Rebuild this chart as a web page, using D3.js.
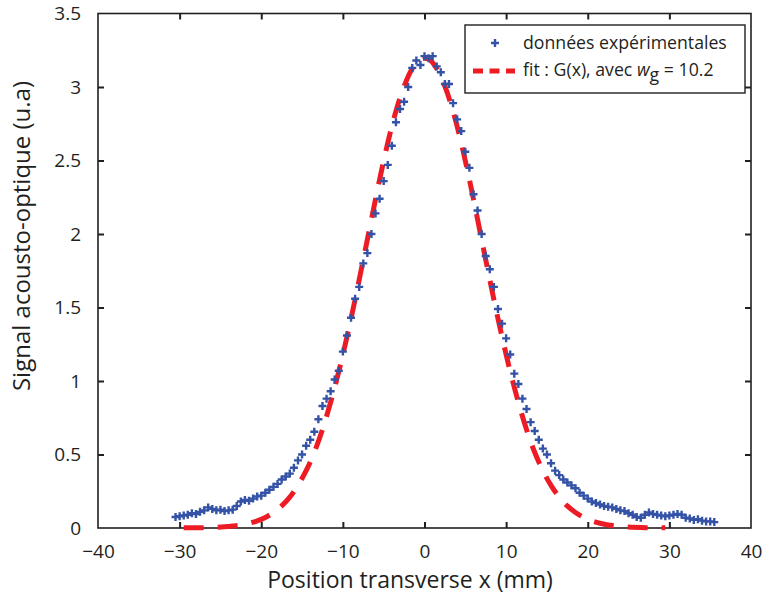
<!DOCTYPE html>
<html><head><meta charset="utf-8">
<script src="https://cdn.jsdelivr.net/npm/d3@7"></script>
<style>
html,body{margin:0;padding:0;background:#fff;}
svg{display:block;}
text{font-family:"Open Sans","Noto Sans",sans-serif;fill:#231f20;}
</style></head>
<body><svg id="chart" width="765" height="597"></svg>
<script>
// ---- data ----
const dataX = d3.range(-30.5, 35.75, 0.5);
const dataY = [
 0.075,0.08,0.085,0.09,0.10,0.095,0.11,0.12,0.14,0.13,0.12,0.125,0.115,0.12,0.125,0.15,0.18,0.19,0.185,0.20,
 0.215,0.22,0.24,0.26,0.28,0.30,0.33,0.35,0.37,0.41,0.46,0.50,0.56,0.60,0.655,0.74,0.83,0.88,0.93,1.01,
 1.07,1.20,1.31,1.43,1.56,1.64,1.80,1.87,2.00,2.14,2.24,2.36,2.47,2.60,2.76,2.85,2.90,3.00,3.13,3.18,
 3.15,3.21,3.195,3.21,3.14,3.10,3.02,3.02,2.89,2.78,2.70,2.56,2.45,2.27,2.16,2.00,1.85,1.76,1.64,1.49,
 1.39,1.29,1.18,1.05,0.98,0.88,0.81,0.72,0.66,0.60,0.54,0.50,0.44,0.39,0.36,0.33,0.31,0.29,0.27,0.24,
 0.22,0.20,0.18,0.17,0.16,0.15,0.145,0.14,0.13,0.12,0.115,0.10,0.09,0.075,0.07,0.09,0.105,0.095,0.09,0.085,
 0.08,0.085,0.09,0.095,0.09,0.07,0.065,0.055,0.06,0.05,0.045,0.045,0.04
];
const fitX = d3.range(-29.5, 30, 1);
const fitY = [
 0.001,0.001,0.002,0.003,0.005,0.008,0.013,0.020,0.032,0.048,0.072,0.105,0.150,0.210,0.290,0.390,0.515,0.670,0.855,1.065,
 1.300,1.555,1.825,2.100,2.370,2.620,2.835,3.005,3.125,3.190,3.190,3.125,3.005,2.835,2.620,2.370,2.100,1.825,1.555,1.300,
 1.065,0.855,0.670,0.515,0.390,0.290,0.210,0.150,0.105,0.072,0.048,0.032,0.020,0.013,0.008,0.005,0.003,0.002,0.001,0.001
];
const xTicks = [-40,-30,-20,-10,0,10,20,30,40];
const yTicks = [0,0.5,1,1.5,2,2.5,3,3.5];
const xTitle = "Position transverse x (mm)";
const yTitle = "Signal acousto-optique (u.a)";
const legendData = "données expérimentales";

// ---- layout ----
const svg = d3.select("#chart");
const L = 98, R = 751, T = 13.5, B = 528;
const x = d3.scaleLinear().domain([-40,40]).range([L,R]);
const y = d3.scaleLinear().domain([0,3.5]).range([B,T]);
const ink = "#231f20", blue = "#3553a6", red = "#ed1c24";
const fmt = d => (d < 0 ? "\u2212" + Math.abs(d) : String(d));

// frame
svg.append("rect").attr("x",L).attr("y",T).attr("width",R-L).attr("height",B-T)
  .attr("fill","none").attr("stroke",ink).attr("stroke-width",1.6);

// axes (ticks inward)
const tl = 6;
const gx = svg.append("g").attr("transform",`translate(0,${B})`)
  .call(d3.axisBottom(x).tickValues(xTicks).tickSize(-tl).tickPadding(16.5).tickFormat(fmt));
const gxt = svg.append("g").attr("transform",`translate(0,${T})`)
  .call(d3.axisTop(x).tickValues(xTicks).tickSize(-tl).tickFormat(""));
const gy = svg.append("g").attr("transform",`translate(${L},0)`)
  .call(d3.axisLeft(y).tickValues(yTicks).tickSize(-tl).tickPadding(17).tickFormat(d=>String(d)));
const gyr = svg.append("g").attr("transform",`translate(${R},0)`)
  .call(d3.axisRight(y).tickValues(yTicks).tickSize(-tl).tickFormat(""));
[gx,gxt,gy,gyr].forEach(g=>{
  g.select(".domain").remove();
  g.selectAll(".tick line").attr("stroke",ink).attr("stroke-width",2);
  g.selectAll(".tick text").attr("fill",ink).style("font-size","19px")
    .style("font-family","'Open Sans','Noto Sans',sans-serif");
});
gx.selectAll(".tick").filter(d=>d===-40||d===40).select("line").remove();
gxt.selectAll(".tick").filter(d=>d===-40||d===40).select("line").remove();
gy.selectAll(".tick").filter(d=>d===0||d===3.5).select("line").remove();
gyr.selectAll(".tick").filter(d=>d===0||d===3.5).select("line").remove();

// titles
svg.append("text").attr("x",410).attr("y",588).attr("text-anchor","middle")
  .style("font-size","23px").text(xTitle);
svg.append("text").attr("transform",`translate(30,236) rotate(-90)`).attr("text-anchor","middle")
  .style("font-size","24px").text(yTitle);

// fit curve
const line = d3.line().x((d,i)=>x(fitX[i])).y(d=>y(d)).curve(d3.curveCatmullRom);
svg.append("path").datum(fitY).attr("d",line).attr("fill","none")
  .attr("stroke",red).attr("stroke-width",5).attr("stroke-dasharray","20,14");

// data markers "+"
const s = 4;
const plus = `M${-s},0H${s}M0,${-s}V${s}`;
svg.append("g").selectAll("path").data(dataY).join("path")
  .attr("transform",(d,i)=>`translate(${x(dataX[i])},${y(d)})`)
  .attr("d",plus).attr("stroke",blue).attr("stroke-width",2.4).attr("fill","none");

// legend
const lg = svg.append("g");
lg.append("rect").attr("x",465).attr("y",25).attr("width",280).attr("height",68)
  .attr("fill","#fff").attr("stroke",ink).attr("stroke-width",1.4);
lg.append("path").attr("transform","translate(495,43)").attr("d",plus)
  .attr("stroke",blue).attr("stroke-width",2.4);
lg.append("text").attr("x",523).attr("y",49).style("font-size","17.7px").text(legendData);
lg.append("path").attr("d","M473,71H515").attr("stroke",red).attr("stroke-width",5)
  .attr("stroke-dasharray","10,6.5");
const t2 = lg.append("text").attr("x",523).attr("y",76).style("font-size","17.7px");
t2.append("tspan").text("fit : G(x), avec ");
t2.append("tspan").style("font-style","italic").text("w");
t2.append("tspan").attr("dy",5).text("g");
t2.append("tspan").attr("dy",-5).text(" = 10.2");
</script></body></html>
